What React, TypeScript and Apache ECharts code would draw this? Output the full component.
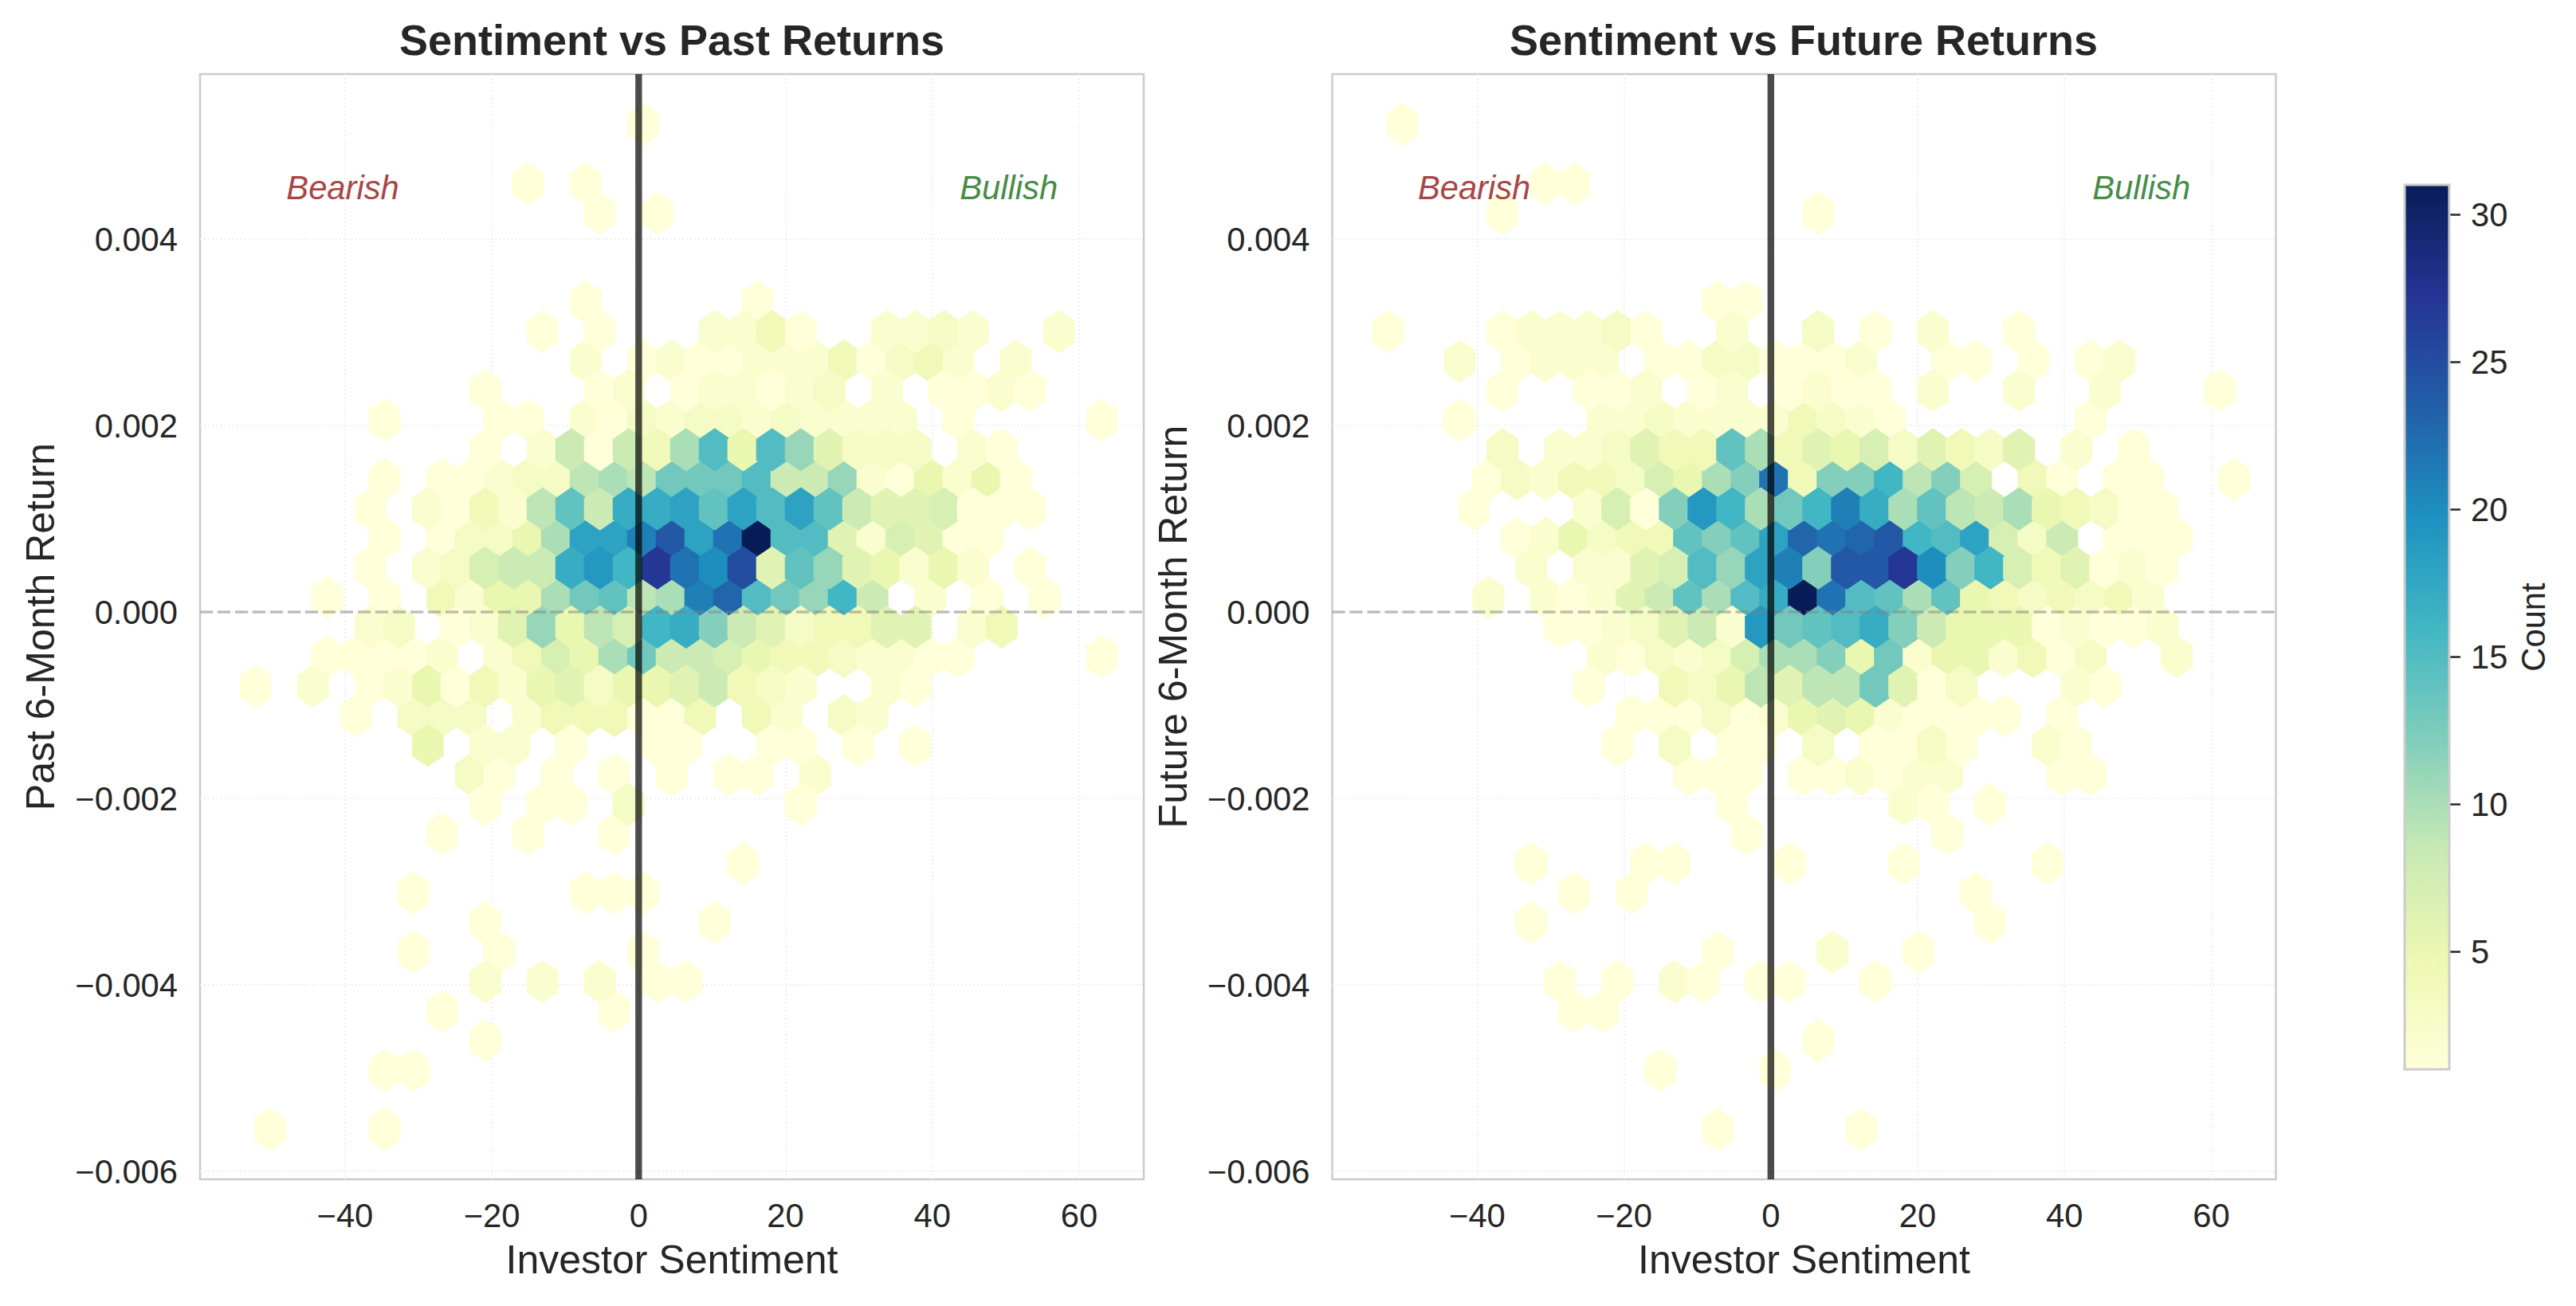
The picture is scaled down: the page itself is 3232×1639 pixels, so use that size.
import React, { useEffect, useRef } from "react";
import * as echarts from "echarts";

// Centres of the hexagon columns (investor sentiment); a column id runs from -27 to 32.
const firstColumn = -27;
const sentimentBins = [
  -52.17, -50.22, -48.27, -46.31, -44.36, -42.4, -40.45, -38.49, -36.54, -34.59,
  -32.63, -30.68, -28.72, -26.77, -24.82, -22.86, -20.91, -18.95, -17.0, -15.05,
  -13.09, -11.14, -9.18, -7.23, -5.28, -3.32, -1.37, 0.59, 2.54, 4.49,
  6.45, 8.4, 10.36, 12.31, 14.26, 16.22, 18.17, 20.13, 22.08, 24.03,
  25.99, 27.94, 29.9, 31.85, 33.8, 35.76, 37.71, 39.67, 41.62, 43.57,
  45.53, 47.48, 49.44, 51.39, 53.34, 55.3, 57.25, 59.21, 61.16, 63.11,
];
// Centres of the hexagon rows (6-month return).
const returnBins = [
  0.005228, 0.004911, 0.004594, 0.004277, 0.00396, 0.003643, 0.003326, 0.003009, 0.002692,
  0.002375, 0.002058, 0.001741, 0.001424, 0.001107, 0.00079, 0.000473, 0.000156, -0.000161,
  -0.000478, -0.000795, -0.001112, -0.001429, -0.001746, -0.002063, -0.00238, -0.002697,
  -0.003014, -0.003331, -0.003648, -0.003965, -0.004282, -0.004599, -0.004916, -0.005233, -0.00555,
];

type Row = number[][];
// One list per return row; each pair is [column id, count].
const pastCounts: Row[] = [
  [[0, 1]],
  [],
  [[-8, 1], [-4, 1]],
  [[-3, 1], [1, 1]],
  [],
  [],
  [[-4, 1], [8, 1]],
  [[-7, 1], [-3, 1], [5, 2], [7, 2], [9, 4], [11, 1], [17, 2], [19, 2], [21, 3], [23, 2], [29, 2]],
  [[-4, 2], [0, 1], [2, 2], [4, 1], [6, 1], [8, 2], [10, 2], [12, 2], [14, 4], [16, 1], [18, 3], [20, 4], [22, 2], [26, 2]],
  [[-11, 1], [-3, 1], [-1, 2], [3, 1], [5, 2], [7, 2], [9, 1], [11, 2], [13, 3], [17, 2], [21, 1], [23, 1], [25, 2], [27, 1]],
  [[-18, 1], [-10, 1], [-8, 1], [-4, 2], [-2, 1], [0, 3], [2, 2], [4, 3], [6, 3], [8, 2], [10, 3], [12, 2], [14, 2], [16, 2], [18, 2], [22, 1], [32, 1]],
  [[-11, 1], [-7, 2], [-5, 8], [-3, 1], [-1, 8], [1, 4], [3, 10], [5, 15], [7, 5], [9, 15], [11, 11], [13, 6], [15, 3], [17, 3], [19, 3], [23, 2], [25, 1]],
  [[-18, 1], [-14, 1], [-12, 1], [-10, 2], [-8, 3], [-6, 3], [-4, 9], [-2, 10], [0, 9], [2, 13], [4, 13], [6, 13], [8, 15], [10, 8], [12, 8], [14, 11], [16, 2], [18, 1], [20, 5], [22, 2], [24, 5], [26, 1]],
  [[-19, 1], [-15, 2], [-13, 1], [-11, 4], [-9, 2], [-7, 9], [-5, 14], [-3, 8], [-1, 17], [1, 17], [3, 18], [5, 14], [7, 18], [9, 15], [11, 18], [13, 14], [15, 8], [17, 6], [19, 6], [21, 7], [23, 1], [25, 1], [27, 1]],
  [[-18, 1], [-14, 1], [-12, 3], [-10, 3], [-8, 5], [-6, 10], [-4, 18], [-2, 18], [0, 21], [2, 24], [4, 18], [6, 22], [8, 31], [10, 15], [12, 15], [14, 6], [16, 2], [18, 7], [20, 6], [22, 1], [24, 1]],
  [[-19, 1], [-15, 2], [-13, 3], [-11, 7], [-9, 8], [-7, 8], [-5, 17], [-3, 19], [-1, 16], [1, 27], [3, 22], [5, 20], [7, 25], [9, 6], [11, 14], [13, 11], [15, 6], [17, 5], [19, 2], [21, 5], [23, 2], [27, 1]],
  [[-22, 1], [-18, 1], [-14, 4], [-12, 2], [-10, 5], [-8, 5], [-6, 10], [-4, 13], [-2, 14], [0, 9], [2, 10], [4, 21], [6, 23], [8, 15], [10, 13], [12, 11], [14, 16], [16, 8], [20, 2], [24, 1], [28, 1]],
  [[-19, 2], [-17, 3], [-13, 1], [-11, 2], [-9, 6], [-7, 11], [-5, 5], [-3, 9], [-1, 7], [1, 16], [3, 17], [5, 12], [7, 8], [9, 6], [11, 3], [13, 4], [15, 4], [17, 6], [19, 6], [23, 2], [25, 4]],
  [[-22, 1], [-20, 1], [-18, 1], [-16, 1], [-14, 2], [-10, 2], [-8, 4], [-6, 7], [-4, 5], [-2, 10], [0, 13], [2, 8], [4, 8], [6, 7], [8, 5], [10, 4], [12, 4], [14, 3], [16, 2], [18, 2], [20, 1], [22, 1], [32, 1]],
  [[-27, 1], [-23, 2], [-19, 1], [-17, 2], [-15, 5], [-13, 1], [-11, 4], [-9, 2], [-7, 5], [-5, 6], [-3, 3], [-1, 5], [1, 5], [3, 6], [5, 8], [7, 4], [9, 3], [11, 2], [17, 2], [19, 1]],
  [[-20, 1], [-16, 3], [-14, 3], [-12, 3], [-8, 2], [-6, 4], [-4, 4], [-2, 4], [0, 1], [2, 1], [4, 4], [8, 4], [10, 2], [14, 3], [16, 2]],
  [[-15, 5], [-11, 2], [-9, 2], [-5, 1], [1, 1], [3, 1], [9, 1], [11, 1], [15, 1], [19, 1]],
  [[-12, 3], [-10, 1], [-6, 1], [-2, 1], [2, 1], [6, 1], [8, 1], [12, 2]],
  [[-11, 1], [-7, 1], [-5, 1], [-1, 3], [11, 1]],
  [[-14, 1], [-8, 1], [-2, 1]],
  [[7, 1]],
  [[-16, 1], [-4, 1], [-2, 1], [0, 1]],
  [[-11, 1], [5, 1]],
  [[-16, 1], [-10, 1], [0, 1]],
  [[-11, 2], [-7, 2], [-3, 2], [1, 1], [3, 1]],
  [[-14, 1], [-2, 1]],
  [[-11, 1]],
  [[-18, 1], [-16, 1]],
  [],
  [[-26, 1], [-18, 1]],
];
const futureCounts: Row[] = [
  [[-26, 1]],
  [],
  [[-16, 1], [-14, 1]],
  [[-19, 1], [3, 1]],
  [],
  [],
  [[-4, 1], [-2, 1]],
  [[-27, 1], [-19, 1], [-17, 2], [-15, 2], [-13, 2], [-11, 3], [-9, 1], [-3, 2], [3, 3], [7, 1], [11, 2], [17, 1]],
  [[-22, 2], [-18, 1], [-16, 2], [-14, 2], [-12, 2], [-8, 1], [-6, 1], [-4, 3], [-2, 3], [0, 1], [2, 1], [4, 1], [6, 2], [12, 1], [14, 1], [18, 1], [22, 1], [24, 2]],
  [[-19, 1], [-13, 1], [-11, 1], [-9, 2], [-5, 1], [-3, 2], [1, 1], [3, 2], [5, 1], [7, 1], [11, 2], [17, 2], [23, 2], [31, 1]],
  [[-22, 1], [-12, 2], [-10, 2], [-8, 3], [-6, 2], [-4, 2], [-2, 2], [0, 2], [2, 4], [4, 3], [6, 2], [8, 1], [22, 1]],
  [[-19, 3], [-15, 2], [-13, 2], [-11, 3], [-9, 6], [-7, 4], [-5, 4], [-3, 14], [-1, 10], [1, 4], [3, 6], [5, 5], [7, 7], [9, 3], [11, 6], [13, 4], [15, 3], [17, 6], [21, 2], [25, 1]],
  [[-20, 1], [-18, 3], [-16, 2], [-14, 4], [-12, 4], [-10, 3], [-8, 7], [-6, 5], [-4, 10], [-2, 12], [0, 22], [2, 4], [4, 12], [6, 12], [8, 16], [10, 9], [12, 12], [14, 7], [18, 4], [20, 1], [24, 1], [26, 1], [32, 1]],
  [[-21, 1], [-13, 2], [-11, 7], [-9, 1], [-7, 12], [-5, 19], [-3, 16], [-1, 10], [1, 13], [3, 16], [5, 21], [7, 17], [9, 10], [11, 14], [13, 9], [15, 8], [17, 10], [19, 5], [21, 4], [23, 3], [25, 1], [27, 1]],
  [[-18, 1], [-16, 2], [-14, 5], [-12, 3], [-10, 4], [-8, 4], [-6, 14], [-4, 12], [-2, 14], [0, 18], [2, 23], [4, 22], [6, 23], [8, 24], [10, 16], [12, 15], [14, 18], [16, 7], [18, 3], [20, 8], [24, 1], [26, 1], [28, 1]],
  [[-17, 2], [-13, 2], [-11, 2], [-9, 6], [-7, 7], [-5, 15], [-3, 11], [-1, 18], [1, 21], [3, 12], [5, 24], [7, 24], [9, 27], [11, 20], [13, 12], [15, 16], [17, 7], [19, 4], [21, 6], [23, 1], [25, 2], [27, 1]],
  [[-20, 2], [-16, 2], [-14, 1], [-12, 2], [-10, 6], [-8, 8], [-6, 14], [-4, 10], [-2, 15], [0, 17], [2, 31], [4, 22], [6, 15], [8, 14], [10, 10], [12, 14], [14, 5], [16, 4], [18, 3], [20, 4], [22, 3], [24, 4], [26, 2]],
  [[-15, 1], [-13, 1], [-11, 2], [-9, 3], [-7, 6], [-5, 8], [-3, 2], [-1, 19], [1, 13], [3, 14], [5, 15], [7, 17], [9, 12], [11, 8], [13, 5], [15, 5], [17, 5], [19, 1], [21, 2], [23, 1], [25, 1], [27, 2]],
  [[-12, 2], [-10, 1], [-8, 3], [-6, 2], [-4, 3], [-2, 7], [0, 10], [2, 10], [4, 12], [6, 5], [8, 13], [10, 2], [12, 5], [14, 5], [16, 2], [18, 4], [20, 1], [22, 3], [28, 2]],
  [[-13, 1], [-7, 4], [-5, 3], [-3, 5], [-1, 9], [1, 6], [3, 9], [5, 9], [7, 13], [9, 6], [11, 1], [13, 3], [21, 2], [23, 1]],
  [[-10, 1], [-8, 1], [-6, 1], [-4, 3], [-2, 1], [0, 2], [2, 5], [4, 6], [6, 5], [8, 2], [10, 1], [12, 1], [14, 1], [16, 1], [20, 1]],
  [[-11, 1], [-7, 3], [-3, 1], [-1, 1], [3, 3], [7, 1], [9, 1], [11, 3], [13, 1], [19, 2], [21, 1]],
  [[-6, 1], [-4, 1], [-2, 1], [2, 1], [4, 1], [6, 2], [8, 1], [10, 2], [12, 2], [20, 1], [22, 1]],
  [[-3, 1], [9, 2], [11, 1], [15, 1]],
  [[-2, 1], [12, 1]],
  [[-17, 1], [-9, 1], [-7, 1], [1, 1], [9, 1], [19, 1]],
  [[-14, 1], [-10, 1], [14, 1]],
  [[-17, 1], [15, 1]],
  [[-4, 1], [4, 2], [10, 1]],
  [[-15, 1], [-11, 1], [-7, 2], [-5, 1], [-1, 1], [1, 1], [7, 1]],
  [[-14, 1], [-12, 1]],
  [[3, 1]],
  [[-8, 1], [0, 1]],
  [],
  [[-4, 1], [6, 1]],
];

const colormap = ["#ffffd9", "#edf8b1", "#c7e9b4", "#7fcdbb", "#41b6c4", "#1d91c0", "#225ea8", "#253494", "#081d58"];
const countMin = 1;
const countMax = 31;
const sentimentTicks = [-40, -20, 0, 20, 40, 60];
const returnTicks = [-0.006, -0.004, -0.002, 0, 0.002, 0.004];
const countTicks = [5, 10, 15, 20, 25, 30];
const sentimentRange = [-59.75, 68.8];
const returnRange = [-0.006085, 0.00577];
const titles = ["Sentiment vs Past Returns", "Sentiment vs Future Returns"];
const yNames = ["Past 6-Month Return", "Future 6-Month Return"];

const FONT = "'Liberation Sans', Arial, sans-serif";
const INK = "#262626";
const HALF_W = 1.954;
const HALF_H = 0.000211;
const HEX = [[0, 1], [1, 0.5], [1, -0.5], [0, -1], [-1, -0.5], [-1, 0.5]];

function hexToRgb(h: string) {
  return [1, 3, 5].map((i) => parseInt(h.slice(i, i + 2), 16));
}
function countColor(n: number) {
  const t = ((n - countMin) / (countMax - countMin)) * (colormap.length - 1);
  const i = Math.min(Math.floor(t), colormap.length - 2);
  const a = hexToRgb(colormap[i]);
  const b = hexToRgb(colormap[i + 1]);
  const f = t - i;
  const c = a.map((v, k) => Math.round(v + (b[k] - v) * f));
  return `rgb(${c[0]},${c[1]},${c[2]})`;
}
// Even rows first, then odd rows, as the overlaps in the picture show.
function cells(rows: Row[]) {
  const out: number[][] = [];
  [0, 1].forEach((parity) => {
    rows.forEach((row, r) => {
      if (r % 2 !== parity) return;
      row.forEach(([col, n]) => out.push([sentimentBins[col - firstColumn], returnBins[r], n]));
    });
  });
  return out;
}
function hexSeries(data: number[][], axis: number) {
  return {
    type: "custom",
    xAxisIndex: axis,
    yAxisIndex: axis,
    data,
    silent: true,
    z: 2,
    renderItem: (_: unknown, api: any) => {
      const x = api.value(0);
      const y = api.value(1);
      const fill = countColor(api.value(2));
      return {
        type: "polygon",
        shape: { points: HEX.map(([dx, dy]) => api.coord([x + dx * HALF_W, y + dy * HALF_H])) },
        style: { fill, stroke: fill, lineWidth: 4 },
      };
    },
  };
}
function refLine(data: number[][], axis: number, color: string, width: number, type: any, z: number) {
  return {
    type: "line",
    xAxisIndex: axis,
    yAxisIndex: axis,
    data,
    showSymbol: false,
    silent: true,
    z,
    lineStyle: { color, width, type },
  };
}

export default function App() {
  const ref = useRef<HTMLDivElement>(null);
  useEffect(() => {
    const chart = echarts.init(ref.current!, null, { renderer: "svg" });
    const grids = [
      { left: 251, top: 93, width: 1184, height: 1387 },
      { left: 1671.5, top: 93, width: 1184, height: 1387 },
    ];
    const gridLine = { show: true, lineStyle: { color: "#eeeeee", width: 2, type: [2, 3] as any } };
    const xAxes: any[] = [0, 1].map((i) => ({
      type: "value",
      gridIndex: i,
      min: sentimentRange[0],
      max: sentimentRange[1],
      name: "Investor Sentiment",
      nameLocation: "middle",
      nameGap: 76,
      nameTextStyle: { fontFamily: FONT, fontSize: 50, color: INK },
      axisLine: { show: false, onZero: false },
      axisTick: { show: false, customValues: sentimentTicks },
      axisLabel: {
        customValues: sentimentTicks,
        fontFamily: FONT,
        fontSize: 41.7,
        color: INK,
        margin: 24,
        formatter: (v: number) => String(v).replace("-", "\u2212"),
      },
      splitLine: gridLine,
    }));
    const yAxes: any[] = [0, 1].map((i) => ({
      type: "value",
      gridIndex: i,
      min: returnRange[0],
      max: returnRange[1],
      name: yNames[i],
      nameLocation: "middle",
      nameGap: 175,
      nameTextStyle: { fontFamily: FONT, fontSize: 50, color: INK },
      axisLine: { show: false, onZero: false },
      axisTick: { show: false, customValues: returnTicks },
      axisLabel: {
        customValues: returnTicks,
        fontFamily: FONT,
        fontSize: 41.7,
        color: INK,
        margin: 28,
        formatter: (v: number) => (Math.abs(v) < 1e-9 ? "0.000" : v.toFixed(3).replace("-", "\u2212")),
      },
      splitLine: gridLine,
    }));
    // Colour bar axes
    xAxes.push({ type: "value", gridIndex: 2, min: 0, max: 1, show: false });
    yAxes.push({
      type: "value",
      gridIndex: 2,
      position: "right",
      min: countMin,
      max: countMax,
      name: "Count",
      nameLocation: "middle",
      nameGap: 84,
      nameRotate: 90,
      nameTextStyle: { fontFamily: FONT, fontSize: 41.7, color: INK },
      axisLine: { show: false, onZero: false },
      axisTick: { show: true, customValues: countTicks, length: 14, lineStyle: { color: INK, width: 2.5 } },
      axisLabel: { customValues: countTicks, fontFamily: FONT, fontSize: 41.7, color: INK, margin: 27 },
      splitLine: { show: false },
    });
    const colorbar = {
      type: "custom",
      xAxisIndex: 2,
      yAxisIndex: 2,
      silent: true,
      data: [[0, countMin, 1, countMax]],
      renderItem: (_: unknown, api: any) => {
        const a = api.coord([api.value(0), api.value(3)]);
        const b = api.coord([api.value(2), api.value(1)]);
        return {
          type: "rect",
          shape: { x: a[0], y: a[1], width: b[0] - a[0], height: b[1] - a[1] },
          style: {
            fill: new echarts.graphic.LinearGradient(
              0, 1, 0, 0,
              colormap.map((color, i) => ({ offset: i / (colormap.length - 1), color })),
            ),
          },
        };
      },
    };
    const mood = (text: string, x: number, fill: string) => ({
      type: "text",
      x,
      y: 235,
      z: 20,
      silent: true,
      style: {
        text,
        fill,
        fontFamily: FONT,
        fontStyle: "italic",
        fontSize: 41.7,
        textAlign: "center",
        textVerticalAlign: "middle",
      },
    });
    chart.setOption({
      animation: false,
      backgroundColor: "#ffffff",
      title: [
        { text: titles[0], left: 838, top: 18, textAlign: "center", textStyle: { fontFamily: FONT, fontSize: 54, fontWeight: "bold", color: INK } },
        { text: titles[1], left: 2258, top: 18, textAlign: "center", textStyle: { fontFamily: FONT, fontSize: 54, fontWeight: "bold", color: INK } },
      ],
      grid: [
        { ...grids[0], show: true, borderColor: "#cccccc", borderWidth: 2.5, containLabel: false },
        { ...grids[1], show: true, borderColor: "#cccccc", borderWidth: 2.5, containLabel: false },
        { left: 3017, top: 232, width: 56, height: 1110, show: true, borderColor: "#cccccc", borderWidth: 3, z: 5 },
      ],
      xAxis: xAxes,
      yAxis: yAxes,
      series: [
        hexSeries(cells(pastCounts), 0),
        hexSeries(cells(futureCounts), 1),
        ...[0, 1].flatMap((i) => [
          refLine([[sentimentRange[0], 0], [sentimentRange[1], 0]], i, "rgba(128,128,128,0.5)", 3.5, [16, 6], 3),
          refLine([[0, returnRange[0]], [0, returnRange[1]]], i, "rgba(0,0,0,0.7)", 8.4, "solid", 4),
        ]),
        colorbar,
      ],
      graphic: [
        mood("Bearish", 430, "#a94545"),
        mood("Bullish", 1265.7, "#468c46"),
        mood("Bearish", 1849.6, "#a94545"),
        mood("Bullish", 2686.7, "#468c46"),
      ],
    });
    return () => chart.dispose();
  }, []);
  return <div ref={ref} style={{ position: "absolute", left: 0, top: 0, width: 3232, height: 1639 }} />;
}
